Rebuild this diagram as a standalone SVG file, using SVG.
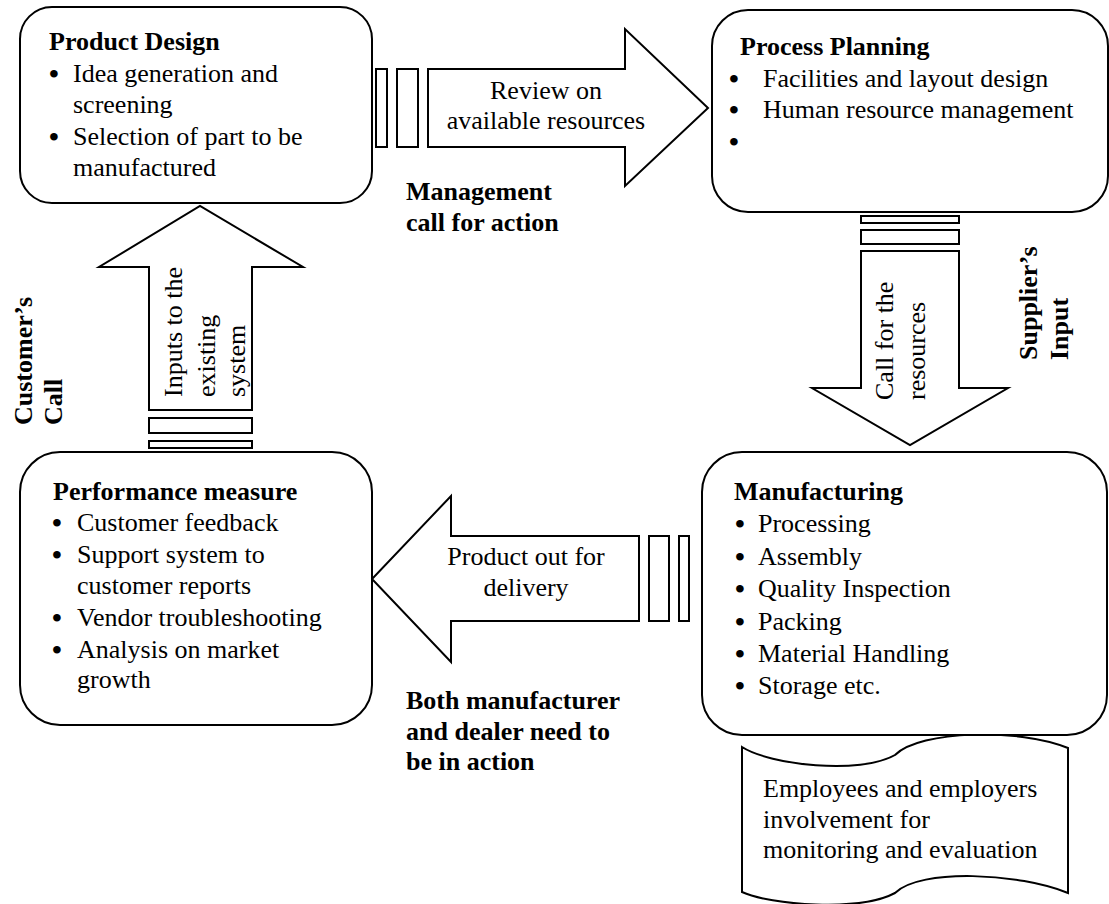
<svg xmlns="http://www.w3.org/2000/svg" width="1109" height="904" viewBox="0 0 1109 904">
<style>
.box{fill:#fff;stroke:#000;stroke-width:2}
.arr{fill:#fff;stroke:#000;stroke-width:2;stroke-linejoin:miter}
text{font-family:"Liberation Serif","Times New Roman",serif;font-size:26px;fill:#000}
.b{font-weight:bold}
.c{text-anchor:middle}
tspan.bu{font-size:28px;font-weight:bold}
</style>
<rect width="1109" height="904" fill="#fff"/>
<g id="connectors">
  <g id="arrow-review">
    <rect class="arr" x="376" y="69" width="11" height="78"/>
    <rect class="arr" x="397" y="69" width="21" height="78"/>
    <polygon class="arr" points="428,69 625,69 625,29 708,108 625,186 625,147 428,147"/>
    <text class="c" x="546" y="99">Review on</text>
    <text class="c" x="546" y="129">available resources</text>
  </g>
  <g id="arrow-call">
    <rect class="arr" x="861" y="216" width="98" height="7"/>
    <rect class="arr" x="861" y="230" width="98" height="14"/>
    <polygon class="arr" points="861,251 959,251 959,388 1008,388 910,445 812,388 861,388"/>
    <text transform="translate(893,400) rotate(-90)">Call for the</text>
    <text transform="translate(925,400) rotate(-90)">resources</text>
  </g>
  <g id="arrow-delivery">
    <rect class="arr" x="649" y="536" width="20" height="85"/>
    <rect class="arr" x="679" y="536" width="10" height="85"/>
    <polygon class="arr" points="639,536 451,536 451,496 372,579 451,662 451,621 639,621"/>
    <text class="c" x="526" y="565">Product out for</text>
    <text class="c" x="526" y="596">delivery</text>
  </g>
  <g id="arrow-inputs">
    <rect class="arr" x="149" y="418" width="103" height="15"/>
    <rect class="arr" x="149" y="441" width="103" height="7"/>
    <polygon class="arr" points="149,410 149,267 99,267 200,206 303,267 252,267 252,410"/>
    <text transform="translate(182,397) rotate(-90)">Inputs to the</text>
    <text transform="translate(215,397) rotate(-90)">existing</text>
    <text transform="translate(245,397) rotate(-90)">system</text>
  </g>
  <g id="labels">
    <text class="b" x="406" y="200">Management</text>
    <text class="b" x="406" y="231">call for action</text>
    <text class="b" transform="translate(1037,360) rotate(-90)">Supplier’s</text>
    <text class="b" transform="translate(1068,360) rotate(-90)">Input</text>
    <text class="b" x="406" y="709">Both manufacturer</text>
    <text class="b" x="406" y="740">and dealer need to</text>
    <text class="b" x="406" y="770">be in action</text>
    <text class="b" transform="translate(32,425) rotate(-90)">Customer’s</text>
    <text class="b" transform="translate(62,425) rotate(-90)">Call</text>
  </g>
</g>
<g id="product-design">
  <rect class="box" x="20" y="7" width="352" height="196" rx="32"/>
  <text class="b" x="49" y="50">Product Design</text>
  <text x="49" y="82"><tspan class="bu" dy="1">•</tspan><tspan x="73" dy="-1">Idea generation and</tspan></text>
  <text x="73" y="113">screening</text>
  <text x="49" y="145"><tspan class="bu" dy="1">•</tspan><tspan x="73" dy="-1">Selection of part to be</tspan></text>
  <text x="73" y="176">manufactured</text>
</g>
<g id="process-planning">
  <rect class="box" x="712" y="10" width="396" height="202" rx="36"/>
  <text class="b" x="740" y="55">Process Planning</text>
  <text x="729" y="87"><tspan class="bu" dy="1">•</tspan><tspan x="763" dy="-1">Facilities and layout design</tspan></text>
  <text x="729" y="118"><tspan class="bu" dy="1">•</tspan><tspan x="763" dy="-1">Human resource management</tspan></text>
  <text x="729" y="150"><tspan class="bu" dy="1">•</tspan></text>
</g>
<g id="monitoring-doc">
  <path class="box" d="M742,747 C770,765 860,775 895,755 C920,730 1020,728 1068,748 L1068,893 C1020,873 920,868 895,893 C860,912 770,905 742,892 Z"/>
  <text x="763" y="797">Employees and employers</text>
  <text x="763" y="828">involvement for</text>
  <text x="763" y="858">monitoring and evaluation</text>
</g>
<g id="manufacturing">
  <rect class="box" x="702" y="452" width="405" height="283" rx="40"/>
  <text class="b" x="734" y="500">Manufacturing</text>
  <text x="735" y="532"><tspan class="bu" dy="1">•</tspan><tspan x="758" dy="-1">Processing</tspan></text>
  <text x="735" y="565"><tspan class="bu" dy="1">•</tspan><tspan x="758" dy="-1">Assembly</tspan></text>
  <text x="735" y="597"><tspan class="bu" dy="1">•</tspan><tspan x="758" dy="-1">Quality Inspection</tspan></text>
  <text x="735" y="630"><tspan class="bu" dy="1">•</tspan><tspan x="758" dy="-1">Packing</tspan></text>
  <text x="735" y="662"><tspan class="bu" dy="1">•</tspan><tspan x="758" dy="-1">Material Handling</tspan></text>
  <text x="735" y="694"><tspan class="bu" dy="1">•</tspan><tspan x="758" dy="-1">Storage etc.</tspan></text>
</g>
<g id="performance-measure">
  <rect class="box" x="20" y="452" width="352" height="273" rx="40"/>
  <text class="b" x="53" y="500">Performance measure</text>
  <text x="52" y="531"><tspan class="bu" dy="1">•</tspan><tspan x="77" dy="-1">Customer feedback</tspan></text>
  <text x="52" y="563"><tspan class="bu" dy="1">•</tspan><tspan x="77" dy="-1">Support system to</tspan></text>
  <text x="77" y="594">customer reports</text>
  <text x="52" y="626"><tspan class="bu" dy="1">•</tspan><tspan x="77" dy="-1">Vendor troubleshooting</tspan></text>
  <text x="52" y="658"><tspan class="bu" dy="1">•</tspan><tspan x="77" dy="-1">Analysis on market</tspan></text>
  <text x="77" y="688">growth</text>
</g>
</svg>
